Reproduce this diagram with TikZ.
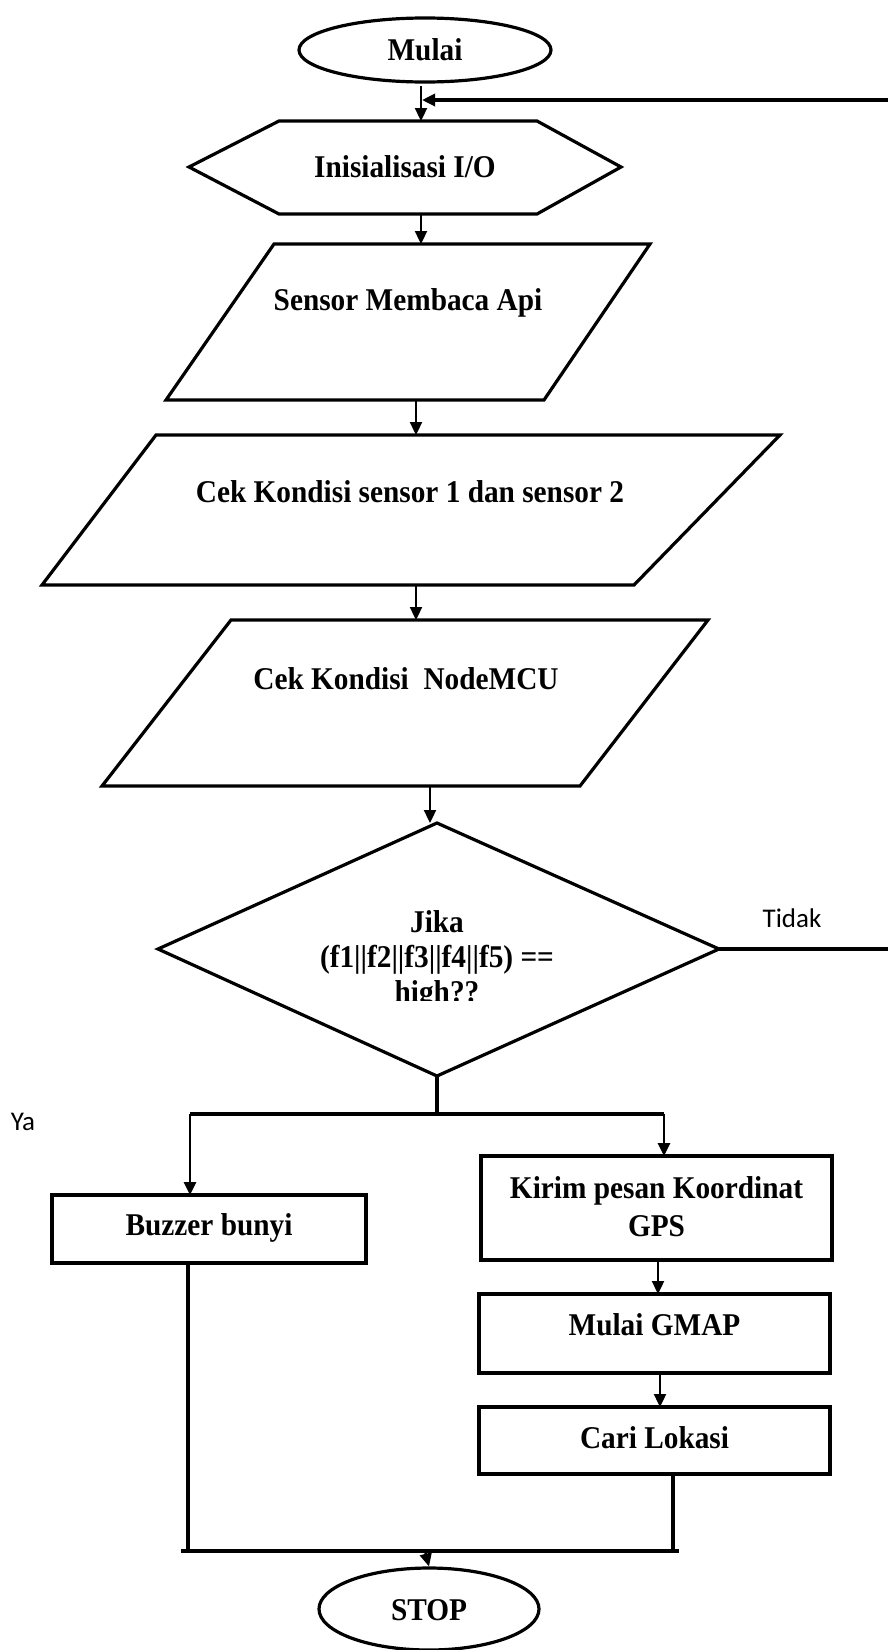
\documentclass[tikz,border=0pt]{standalone}
\usepackage{fontspec}
\setmainfont{Liberation Serif}
\newfontfamily\sansfont{Carlito}
\usetikzlibrary{arrows.meta,shapes.geometric}
\newcommand{\vstr}[1]{\scalebox{1}[1.08]{#1}}
\begin{document}
\begin{tikzpicture}[x=1pt,y=-1pt,
  shapeline/.style={line width=3.2pt,line join=miter},
  conn/.style={line width=3.4pt},
  arr/.style={line width=2.3pt,-{Triangle[length=13pt,width=12pt]}},
  lbl/.style={font=\fontsize{29.3}{38}\selectfont\bfseries,align=center,inner sep=0pt},
  slbl/.style={font=\sansfont\fontsize{27}{32}\selectfont,inner sep=0pt},
  box/.style={shapeline,draw,rectangle,inner sep=0pt},
  term/.style={shapeline,draw,ellipse,inner sep=0pt}]
\useasboundingbox (0,0) rectangle (888,1650);
\fill[white] (0,0) rectangle (888,1650);

% Start
\node[term,minimum width=252pt,minimum height=64pt] (mulai) at (425,50) {};
\node[lbl] (tmulai) at (425,50) {\vstr{Mulai}};

% Hexagon
\coordinate (hL) at (189,167); \coordinate (hTL) at (279,121); \coordinate (hTR) at (537,121);
\coordinate (hR) at (621,167); \coordinate (hBR) at (537,214); \coordinate (hBL) at (279,214);
\draw[shapeline] (hL)--(hTL)--(hTR)--(hR)--(hBR)--(hBL)--cycle;
\node[lbl] (tinit) at (405,167) {\vstr{Inisialisasi I/O}};
\coordinate (hTop) at (421,121); \coordinate (hBot) at (421,214);

% Parallelogram 1
\draw[shapeline] (274,244)--(650,244)--(544,400)--(166,400)--cycle;
\node[lbl] (tsensor) at (408,303) {\vstr{Sensor Membaca Api}};
\coordinate (p1Top) at (421,244); \coordinate (p1Bot) at (416,400);

% Parallelogram 2
\draw[shapeline] (156,435)--(780,435)--(634,585)--(42,585)--cycle;
\node[lbl] (tcek1) at (410,492) {\vstr{Cek Kondisi sensor 1 dan sensor 2}};
\coordinate (p2Top) at (416,435); \coordinate (p2Bot) at (416,585);

% Parallelogram 3
\draw[shapeline] (231,620)--(708,620)--(580,786)--(102,786)--cycle;
\node[lbl] (tcek2) at (406,679) {\vstr{Cek Kondisi\ \ NodeMCU}};
\coordinate (p3Top) at (416,620); \coordinate (p3Bot) at (430,786);

% Diamond
\coordinate (dT) at (437,823); \coordinate (dR) at (719,949);
\coordinate (dB) at (437,1076); \coordinate (dL) at (158,949);
\draw[shapeline] (dT)--(dR)--(dB)--(dL)--cycle;
\begin{scope}
\clip (150,890) rectangle (730,1000);
\node[lbl,font=\fontsize{29.3}{35}\selectfont\bfseries] (tcond) at (437,960) {\vstr{Jika}\\\vstr{(f1||f2||f3||f4||f5) ==}\\\vstr{high??}};
\end{scope}
\coordinate (dTin) at (430,823);

% Boxes
\node[box,minimum width=314pt,minimum height=68pt] (buzz) at (209,1229) {};
\node[lbl] (tbuzz) at (209,1228) {\vstr{Buzzer bunyi}};
\node[box,minimum width=351pt,minimum height=104pt] (kirim) at (656.5,1208) {};
\node[lbl] (tkirim) at (656.5,1207) {\vstr{Kirim pesan Koordinat}\\\vstr{GPS}};
\node[box,minimum width=351pt,minimum height=79pt] (gmap) at (654.5,1333.5) {};
\node[lbl] (tgmap) at (654.5,1325) {\vstr{Mulai GMAP}};
\node[box,minimum width=351pt,minimum height=67pt] (cari) at (654.5,1440.5) {};
\node[lbl] (tcari) at (654.5,1438) {\vstr{Cari Lokasi}};

% Stop
\node[term,minimum width=220pt,minimum height=82pt] (stop) at (429,1609) {};
\node[lbl] (tstop) at (429,1610) {\vstr{STOP}};

% Labels
\node[slbl] (tidak) at (792,918) {Tidak};
\node[slbl] (ya) at (23,1122) {Ya};

% Connectors
\coordinate (m1) at (421,86);
\coordinate (fbR) at (888,100); \coordinate (fbL) at (422,100);
\draw[arr] (m1) -- (hTop);
\draw[arr,line width=3.2pt] (fbR) -- (fbL);
\draw[arr] (hBot) -- (p1Top);
\draw[arr] (p1Bot) -- (p2Top);
\draw[arr] (p2Bot) -- (p3Top);
\draw[arr] (p3Bot) -- (dTin);
\coordinate (tidakEnd) at (888,949);
\draw[conn] (dR) -- (tidakEnd);
\coordinate (br) at (437,1114);
\coordinate (brL) at (190,1114); \coordinate (brR) at (664,1114);
\draw[conn] (dB) -- (br);
\draw[conn] (brL) -- (brR);
\draw[arr,line width=2.8pt] (brL) -- (190,1195);
\draw[arr,line width=2.8pt] (brR) -- (664,1156);
\draw[arr] (658,1260) -- (658,1294);
\draw[arr] (660,1373) -- (660,1407);
\coordinate (bzB) at (188,1263); \coordinate (bzE) at (188,1549);
\draw[conn] (bzB) -- (bzE);
\coordinate (caB) at (673,1474); \coordinate (caE) at (673,1553);
\draw[conn] (caB) -- (caE);
\coordinate (jL) at (181,1551); \coordinate (jR) at (679,1551);
\draw[conn,line width=4pt] (jL) -- (jR);
\coordinate (jM) at (425,1551);
\draw[arr] (jM) -- (stop.north);
\end{tikzpicture}
\end{document}
